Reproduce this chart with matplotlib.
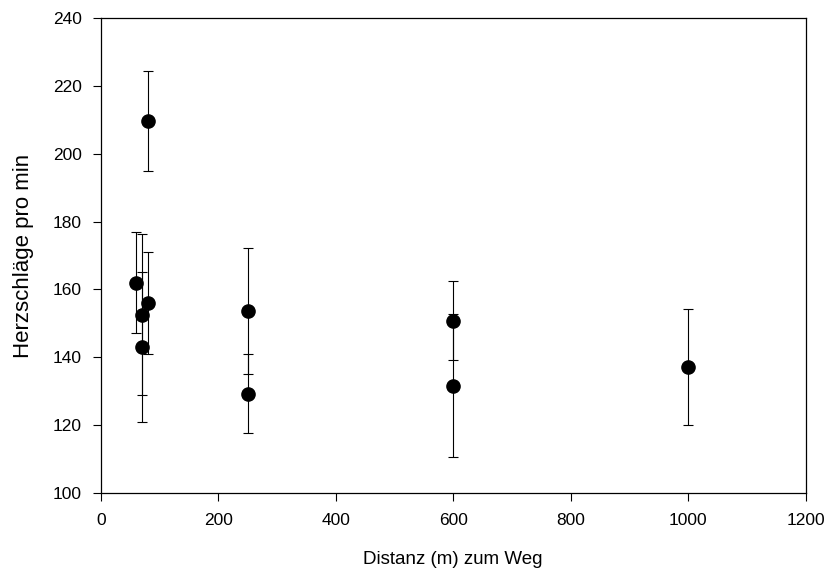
import matplotlib
matplotlib.use("Agg")
import matplotlib.pyplot as plt

plt.rcParams['font.family'] = ['Liberation Sans', 'DejaVu Sans']

# distance to the path (m), mean heart rate, error (half-width)
distanz = [60, 70, 70, 80, 80, 250, 250, 600, 600, 1000]
herzschlag = [162.0, 152.5, 143.0, 209.6, 156.0, 153.5, 129.2, 150.8, 131.6, 137.1]
fehler = [15.0, 23.7, 22.0, 14.7, 15.0, 18.6, 11.7, 11.6, 21.2, 17.0]

xticks = [0, 200, 400, 600, 800, 1000, 1200]
yticks = [100, 120, 140, 160, 180, 200, 220, 240]

fig = plt.figure(figsize=(8.29, 5.70), dpi=100)
ax = fig.add_axes([0.1215, 0.1356, 0.8504, 0.8323])

ax.errorbar(distanz, herzschlag, yerr=fehler, fmt='o', color='black',
            ecolor='black', elinewidth=0.8, capsize=3.6, capthick=0.8,
            markersize=9.5)

ax.set_xlim(0, 1200)
ax.set_ylim(100, 240)
ax.set_xticks(xticks)
ax.set_yticks(yticks)
ax.tick_params(direction='out', length=5.5, width=0.8, labelsize=12.5,
               top=False, right=False)
ax.tick_params(axis='y', pad=8)
ax.tick_params(axis='x', pad=9)
for s in ax.spines.values():
    s.set_linewidth(0.9)

ax.set_xlabel("Distanz (m) zum Weg", fontsize=13.5, labelpad=17)
ax.set_ylabel("Herzschläge pro min", fontsize=16, labelpad=14)

fig.savefig("out.png", dpi=100)
